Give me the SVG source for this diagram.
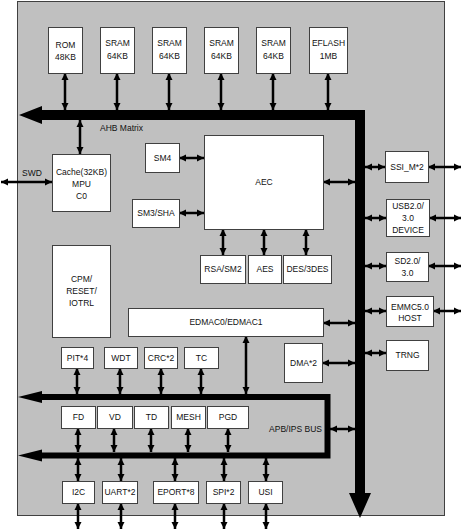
<svg xmlns="http://www.w3.org/2000/svg" width="462" height="531" viewBox="0 0 462 531">
<style>
.bg{fill:#c0c0c0;stroke:#404040;stroke-width:1}
.box{fill:#fff;stroke:#404040;stroke-width:1}
text{font-family:"Liberation Sans",Arial,sans-serif;font-size:8.5px;fill:#111;text-anchor:middle}
.lab{text-anchor:start}
.arr{stroke:#000;stroke-width:2.5;fill:none;marker-start:url(#ah);marker-end:url(#ah)}
.bus{fill:#000}
</style>
<defs>
<marker id="ah" viewBox="0 0 8 8" markerUnits="userSpaceOnUse" markerWidth="7" markerHeight="8" refX="8" refY="4" orient="auto-start-reverse">
<path d="M0,0 L8,4 L0,8 Z" fill="#000"/>
</marker>
</defs>
<rect class="bg" x="17.5" y="1.5" width="427" height="514"/>

<g id="connectors">
<!-- AHB bus -->
<polygon class="bus" points="19,115 42,106 42,110 365,110 365,493 371,493 360,518 349,493 355,493 355,120 42,120 42,124"/>
<!-- APB bus -->
<polyline points="42,397 327.5,397 327.5,455.5 42,455.5" fill="none" stroke="#000" stroke-width="6" stroke-linejoin="miter"/>
<polygon class="bus" points="18,397 42,391 42,403"/>
<polygon class="bus" points="18,455.5 42,449.5 42,461.5"/>
<!-- memory to AHB -->
<line class="arr" x1="65" y1="73" x2="65" y2="110"/>
<line class="arr" x1="117" y1="73" x2="117" y2="110"/>
<line class="arr" x1="169" y1="73" x2="169" y2="110"/>
<line class="arr" x1="221" y1="73" x2="221" y2="110"/>
<line class="arr" x1="273" y1="73" x2="273" y2="110"/>
<line class="arr" x1="328" y1="73" x2="328" y2="110"/>
<line class="arr" x1="80" y1="120" x2="80" y2="154"/>
<line class="arr" x1="1" y1="182" x2="52" y2="182"/>
<line class="arr" x1="179" y1="158" x2="204" y2="158"/>
<line class="arr" x1="179" y1="213" x2="204" y2="213"/>
<line class="arr" x1="323" y1="182" x2="355" y2="182"/>
<line class="arr" x1="223" y1="229" x2="223" y2="255"/>
<line class="arr" x1="264" y1="229" x2="264" y2="255"/>
<line class="arr" x1="306" y1="229" x2="306" y2="255"/>
<!-- right peripherals -->
<line class="arr" x1="365" y1="167" x2="385" y2="167"/>
<line class="arr" x1="428" y1="167" x2="461" y2="167"/>
<line class="arr" x1="365" y1="218" x2="386" y2="218"/>
<line class="arr" x1="429" y1="218" x2="461" y2="218"/>
<line class="arr" x1="365" y1="266" x2="386" y2="266"/>
<line class="arr" x1="428" y1="266" x2="461" y2="266"/>
<line class="arr" x1="365" y1="311" x2="386" y2="311"/>
<line class="arr" x1="433" y1="311" x2="461" y2="311"/>
<line class="arr" x1="365" y1="353" x2="386" y2="353"/>
<!-- EDMAC / DMA -->
<line class="arr" x1="323" y1="323" x2="355" y2="323"/>
<line class="arr" x1="246" y1="336" x2="246" y2="394"/>
<line class="arr" x1="322" y1="363" x2="355" y2="363"/>
<line class="arr" x1="330" y1="429" x2="355" y2="429"/>
<!-- top peripheral row -->
<line class="arr" x1="77" y1="368" x2="77" y2="394"/>
<line class="arr" x1="120" y1="368" x2="120" y2="394"/>
<line class="arr" x1="161" y1="368" x2="161" y2="394"/>
<line class="arr" x1="201" y1="368" x2="201" y2="394"/>
<!-- middle row -->
<line class="arr" x1="78" y1="428" x2="78" y2="452"/>
<line class="arr" x1="114" y1="428" x2="114" y2="452"/>
<line class="arr" x1="151" y1="428" x2="151" y2="452"/>
<line class="arr" x1="188" y1="428" x2="188" y2="452"/>
<line class="arr" x1="228" y1="428" x2="228" y2="452"/>
<!-- bottom row -->
<line class="arr" x1="78" y1="458" x2="78" y2="481"/>
<line class="arr" x1="121" y1="458" x2="121" y2="481"/>
<line class="arr" x1="175" y1="458" x2="175" y2="481"/>
<line class="arr" x1="224" y1="458" x2="224" y2="481"/>
<line class="arr" x1="266" y1="458" x2="266" y2="481"/>
<line class="arr" x1="78" y1="503" x2="78" y2="529"/>
<line class="arr" x1="121" y1="503" x2="121" y2="529"/>
<line class="arr" x1="175" y1="503" x2="175" y2="529"/>
<line class="arr" x1="224" y1="503" x2="224" y2="529"/>
<line class="arr" x1="266" y1="503" x2="266" y2="529"/>
</g>

<text class="lab" x="100" y="131">AHB Matrix</text>
<text x="32" y="176">SWD</text>
<text x="322" y="432" style="text-anchor:end">APB/IPS BUS</text>

<g id="rom"><rect class="box" x="48.5" y="27.5" width="34" height="46"/><text x="65.5" y="48">ROM</text><text x="65.5" y="60">48KB</text></g>
<g id="sram1"><rect class="box" x="100.5" y="27.5" width="34" height="46"/><text x="117.5" y="46">SRAM</text><text x="117.5" y="59">64KB</text></g>
<g id="sram2"><rect class="box" x="152.5" y="27.5" width="34" height="46"/><text x="169.5" y="46">SRAM</text><text x="169.5" y="59">64KB</text></g>
<g id="sram3"><rect class="box" x="204.5" y="27.5" width="34" height="46"/><text x="221.5" y="46">SRAM</text><text x="221.5" y="59">64KB</text></g>
<g id="sram4"><rect class="box" x="256.5" y="27.5" width="34" height="46"/><text x="273.5" y="46">SRAM</text><text x="273.5" y="59">64KB</text></g>
<g id="eflash"><rect class="box" x="309.5" y="27.5" width="38" height="46"/><text x="328.5" y="46">EFLASH</text><text x="328.5" y="59">1MB</text></g>

<g id="cache"><rect class="box" x="52.5" y="154.5" width="58" height="57"/><text x="81.5" y="175">Cache(32KB)</text><text x="81.5" y="187">MPU</text><text x="81.5" y="199">C0</text></g>
<g id="sm4"><rect class="box" x="145.5" y="143.5" width="34" height="29"/><text x="162.5" y="161">SM4</text></g>
<g id="sm3"><rect class="box" x="132.5" y="199.5" width="47" height="28"/><text x="156" y="216">SM3/SHA</text></g>
<g id="aec"><rect class="box" x="204.5" y="135.5" width="119" height="94"/><text x="264" y="185">AEC</text></g>
<g id="rsa"><rect class="box" x="200.5" y="255.5" width="45" height="28"/><text x="223" y="272">RSA/SM2</text></g>
<g id="aes"><rect class="box" x="248.5" y="255.5" width="33" height="28"/><text x="265" y="272">AES</text></g>
<g id="des"><rect class="box" x="283.5" y="255.5" width="48" height="28"/><text x="307.5" y="272">DES/3DES</text></g>

<g id="ssi"><rect class="box" x="385.5" y="151.5" width="43" height="31"/><text x="407" y="170">SSI_M*2</text></g>
<g id="usb"><rect class="box" x="386.5" y="199.5" width="43" height="37"/><text x="408" y="209">USB2.0/</text><text x="408" y="221">3.0</text><text x="408" y="233">DEVICE</text></g>
<g id="sd"><rect class="box" x="386.5" y="252.5" width="42" height="29"/><text x="407.5" y="264">SD2.0/</text><text x="407.5" y="276">3.0</text></g>
<g id="emmc"><rect class="box" x="386.5" y="296.5" width="47" height="30"/><text x="410" y="310">EMMC5.0</text><text x="410" y="321">HOST</text></g>
<g id="trng"><rect class="box" x="386.5" y="340.5" width="42" height="30"/><text x="407.5" y="358">TRNG</text></g>

<g id="cpm"><rect class="box" x="52.5" y="245.5" width="58" height="92"/><text x="81.5" y="282">CPM/</text><text x="81.5" y="294">RESET/</text><text x="81.5" y="306">IOTRL</text></g>
<g id="edmac"><rect class="box" x="128.5" y="308.5" width="195" height="28"/><text x="226" y="325">EDMAC0/EDMAC1</text></g>
<g id="dma"><rect class="box" x="284.5" y="343.5" width="38" height="39"/><text x="303.5" y="366">DMA*2</text></g>

<g id="pit"><rect class="box" x="61.5" y="347.5" width="32" height="21"/><text x="77.5" y="361">PIT*4</text></g>
<g id="wdt"><rect class="box" x="104.5" y="347.5" width="33" height="21"/><text x="121" y="361">WDT</text></g>
<g id="crc"><rect class="box" x="144.5" y="347.5" width="33" height="21"/><text x="161" y="361">CRC*2</text></g>
<g id="tc"><rect class="box" x="184.5" y="347.5" width="34" height="21"/><text x="201.5" y="361">TC</text></g>

<g id="fd"><rect class="box" x="61.5" y="406.5" width="34" height="22"/><text x="78.5" y="420">FD</text></g>
<g id="vd"><rect class="box" x="97.5" y="406.5" width="35" height="22"/><text x="115" y="420">VD</text></g>
<g id="td"><rect class="box" x="134.5" y="406.5" width="34" height="22"/><text x="151.5" y="420">TD</text></g>
<g id="mesh"><rect class="box" x="171.5" y="406.5" width="34" height="22"/><text x="188.5" y="420">MESH</text></g>
<g id="pgd"><rect class="box" x="207.5" y="406.5" width="41" height="22"/><text x="228" y="420">PGD</text></g>

<g id="i2c"><rect class="box" x="62.5" y="481.5" width="32" height="22"/><text x="78.5" y="495">I2C</text></g>
<g id="uart"><rect class="box" x="102.5" y="481.5" width="35" height="22"/><text x="120" y="495">UART*2</text></g>
<g id="eport"><rect class="box" x="153.5" y="481.5" width="45" height="22"/><text x="176" y="495">EPORT*8</text></g>
<g id="spi"><rect class="box" x="206.5" y="481.5" width="34" height="22"/><text x="223.5" y="495">SPI*2</text></g>
<g id="usi"><rect class="box" x="248.5" y="481.5" width="34" height="22"/><text x="265.5" y="495">USI</text></g>
</svg>
